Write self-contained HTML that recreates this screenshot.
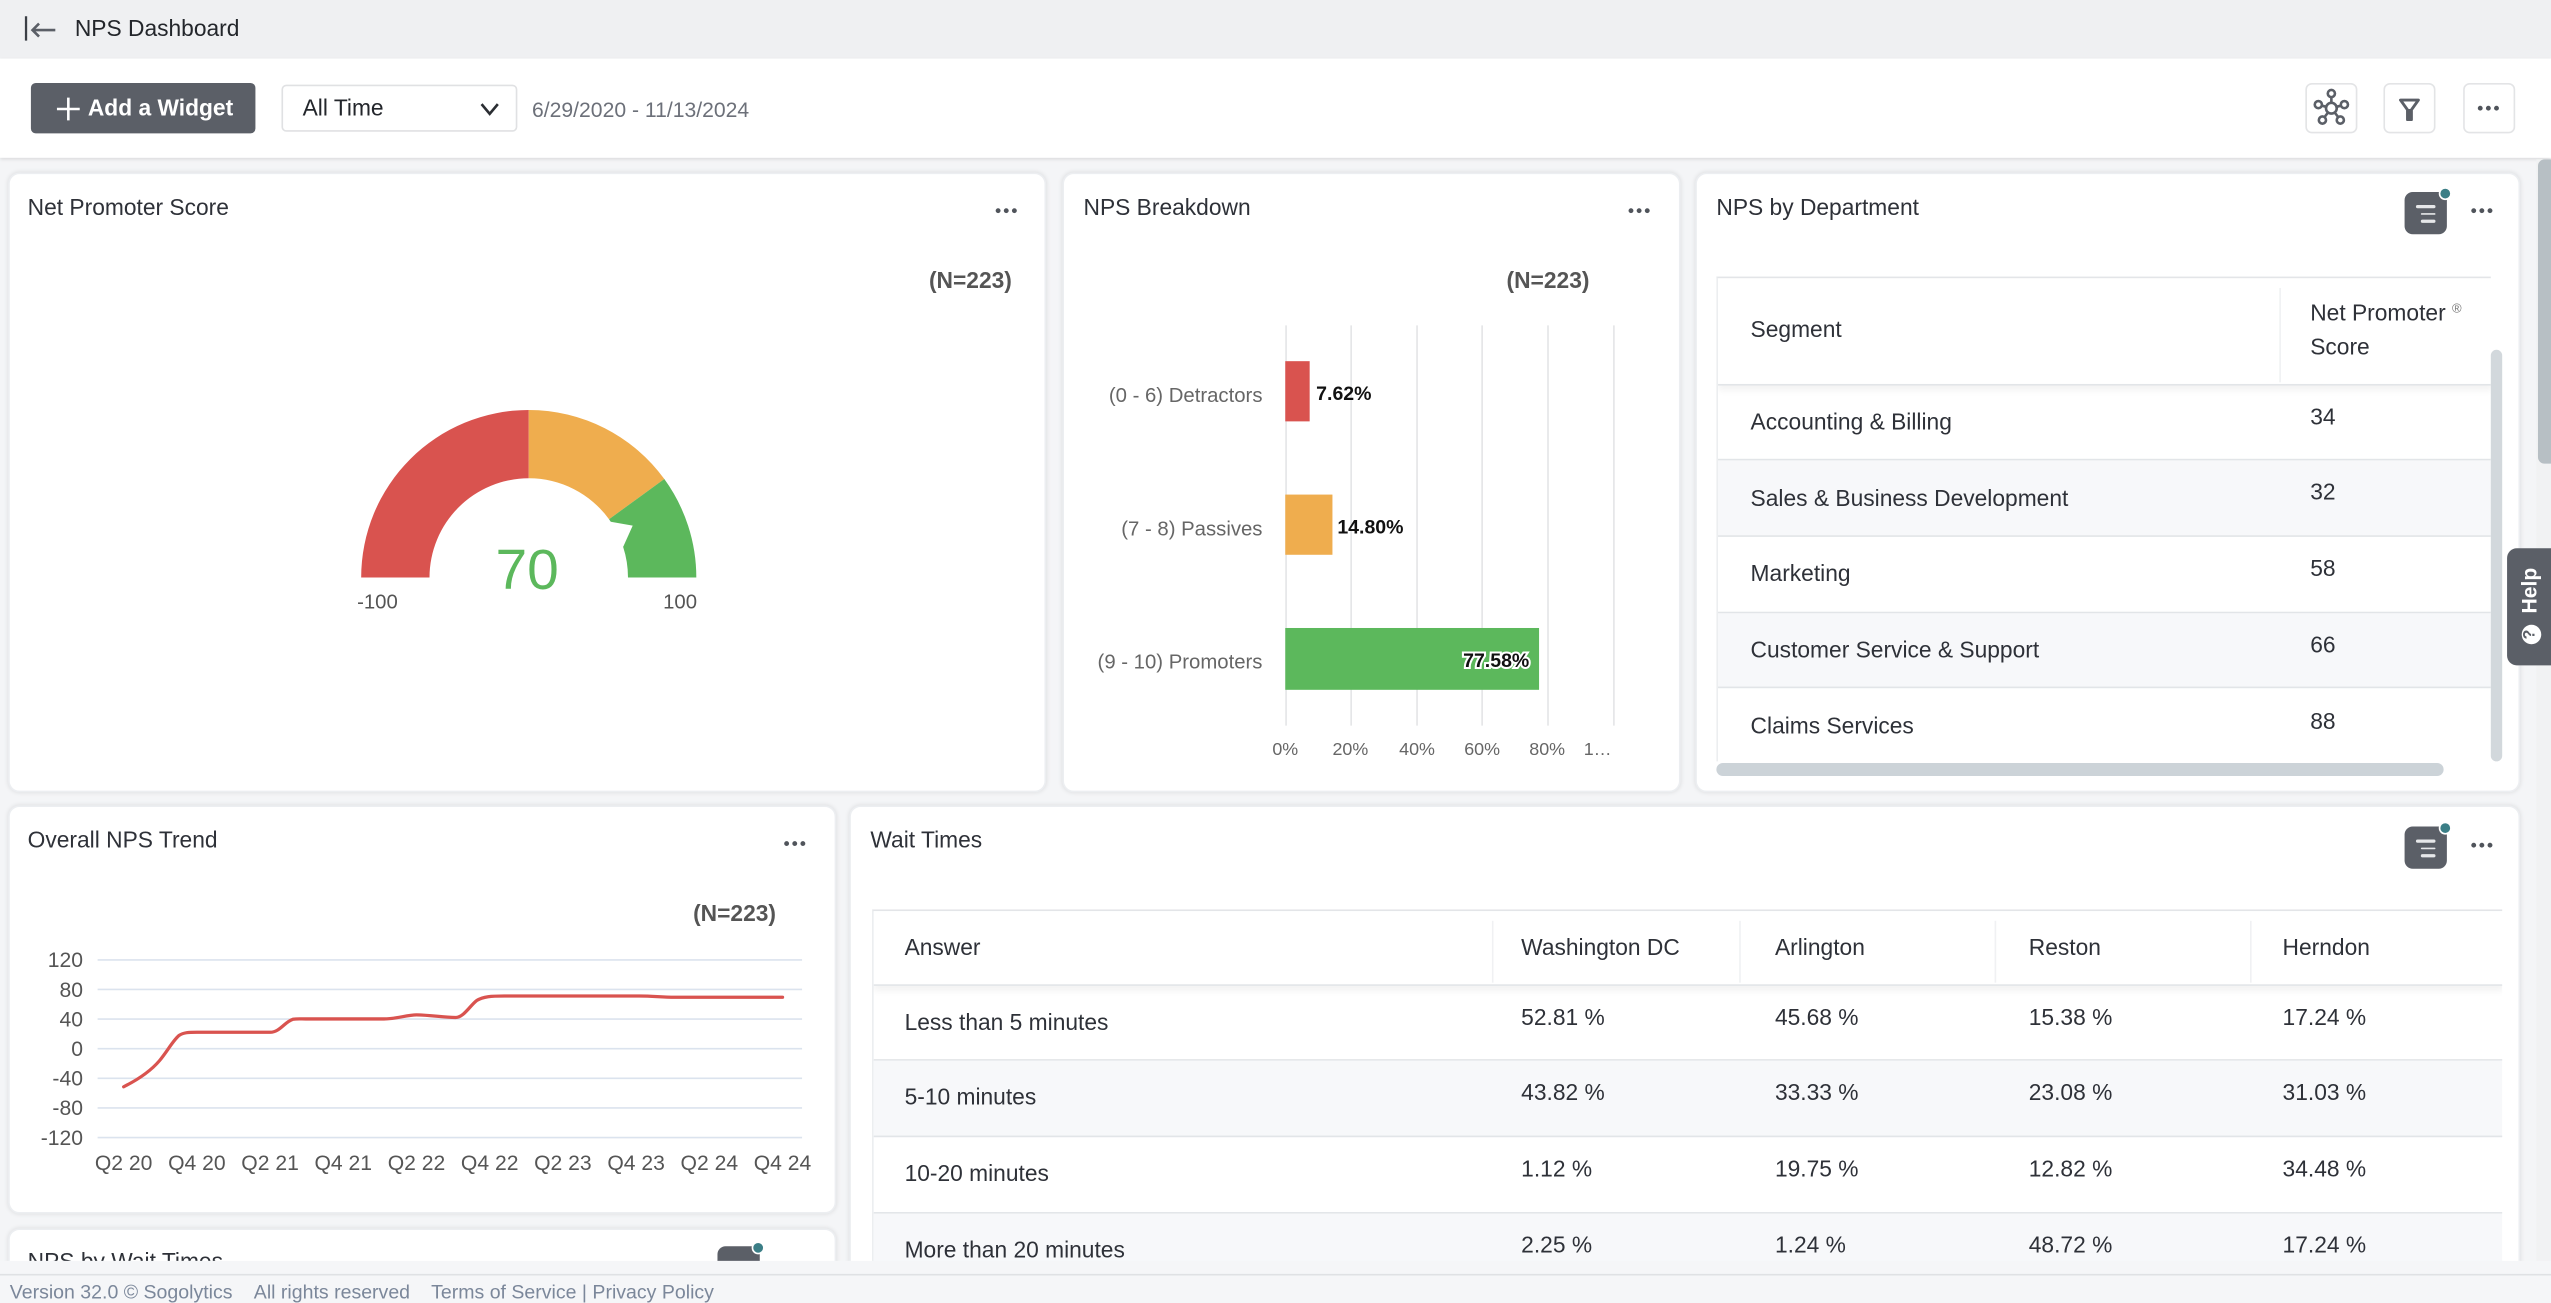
<!DOCTYPE html>
<html><head><meta charset="utf-8">
<style>
*{box-sizing:border-box;margin:0;padding:0}
html,body{width:2551px;height:1303px;overflow:hidden;background:#f4f5f7}
#outer{position:absolute;left:0;top:0;width:2551px;height:1303px;overflow:hidden;contain:paint}
#w{position:absolute;left:0;top:0;width:1568px;height:800.5px;transform:scale(1.626913);transform-origin:0 0;background:#f4f5f7;font-family:"Liberation Sans",Arial,sans-serif;color:#2e3138;overflow:hidden}
.a{position:absolute}
.card{position:absolute;background:#fff;border-radius:7px;box-shadow:0 0 3px rgba(0,0,0,.10);border:1px solid #eceef1}
.t{position:absolute;white-space:nowrap;line-height:1;font-size:14px}
.dots{position:absolute;width:14px;height:4px}
.dots i{position:absolute;top:0;width:3.4px;height:3.4px;border-radius:50%;background:#50545b}
.dots i:nth-child(1){left:0}.dots i:nth-child(2){left:5px}.dots i:nth-child(3){left:10px}
.fi{position:absolute;width:26px;height:26px;background:#5b5f67;border-radius:5px}
.fi b{position:absolute;height:1.6px;background:#e6e7e9;border-radius:1px}
.fi u{position:absolute;right:-3px;top:-3px;width:8px;height:8px;border-radius:50%;background:#3b7e86;border:1.2px solid #fff}
.row{position:absolute;border-bottom:1px solid #e2e5e8}
.g{background:#f7f8fa}
.n{color:#555;font-weight:bold}
</style></head><body>
<div id="outer">
<div id="w">

<!-- top bar -->
<div class="a" style="left:0;top:0;width:1568px;height:36px;background:#eff0f2"></div>
<svg class="a" style="left:12px;top:8px" width="26" height="20"><line x1="4" y1="2" x2="4" y2="17" stroke="#3b3f46" stroke-width="1.4"/><line x1="8" y1="10.5" x2="22" y2="10.5" stroke="#5b5f67" stroke-width="1.6"/><polyline points="12,6.5 8,10.5 12,14.5" fill="none" stroke="#5b5f67" stroke-width="1.6"/></svg>
<div class="t" style="left:46px;top:10px;font-size:14px;color:#23262b">NPS Dashboard</div>

<!-- toolbar -->
<div class="a" style="left:0;top:36px;width:1568px;height:61px;background:#fff;box-shadow:0 1px 2px rgba(0,0,0,.10)"></div>
<div class="a" style="left:19px;top:51px;width:138px;height:31px;background:#5b5f67;border-radius:3px"></div>
<svg class="a" style="left:34px;top:59px" width="16" height="16"><line x1="8" y1="1" x2="8" y2="15" stroke="#fff" stroke-width="1.6"/><line x1="1" y1="8" x2="15" y2="8" stroke="#fff" stroke-width="1.6"/></svg>
<div class="t" style="left:54px;top:59px;color:#fff;font-weight:bold;font-size:14px">Add a Widget</div>
<div class="a" style="left:173px;top:52px;width:145px;height:29px;border:1px solid #e0e1e3;border-radius:3px;background:#fff"></div>
<div class="t" style="left:186px;top:59px;color:#23262b">All Time</div>
<svg class="a" style="left:294px;top:61px" width="16" height="12"><polyline points="2,3 7,9 12,3" fill="none" stroke="#2b2e33" stroke-width="1.6"/></svg>
<div class="t" style="left:327px;top:61px;font-size:13px;color:#6c7079">6/29/2020 - 11/13/2024</div>

<div class="a" style="left:1417px;top:51px;width:32px;height:31px;border:1px solid #e3e4e6;border-radius:4px"></div>
<div class="a" style="left:1465px;top:51px;width:32px;height:31px;border:1px solid #e3e4e6;border-radius:4px"></div>
<div class="a" style="left:1514px;top:51px;width:32px;height:31px;border:1px solid #e3e4e6;border-radius:4px"></div>
<svg class="a" style="left:1417px;top:51px" width="32" height="31" fill="none" stroke="#5b5f67" stroke-width="1.6">
<line x1="16" y1="15.5" x2="16" y2="7.5"/><line x1="16" y1="15.5" x2="8.5" y2="13.5"/><line x1="16" y1="15.5" x2="23.5" y2="13.5"/><line x1="16" y1="15.5" x2="11" y2="22"/><line x1="16" y1="15.5" x2="21" y2="22"/>
<circle cx="16" cy="15.5" r="3.3" fill="#fff"/><circle cx="16" cy="6.5" r="2.2" fill="#fff"/><circle cx="8" cy="13.3" r="2.2" fill="#fff"/><circle cx="24" cy="13.3" r="2.2" fill="#fff"/><circle cx="10.5" cy="22.8" r="2.2" fill="#fff"/><circle cx="21.5" cy="22.8" r="2.2" fill="#fff"/></svg>
<svg class="a" style="left:1465px;top:51px" width="32" height="31"><path d="M10.5,10.5 H21.5 L17.2,16.5 V22.5 H14.8 V16.5 Z" fill="none" stroke="#5b5f67" stroke-width="1.8" stroke-linejoin="round"/><rect x="14.8" y="16" width="2.4" height="6.5" fill="#5b5f67"/></svg>
<div class="dots" style="left:1523px;top:65px"><i></i><i></i><i></i></div>

<!-- right scrollbar -->
<div class="a" style="left:1559px;top:98px;width:9px;height:703px;background:#f1f2f3"></div>
<div class="a" style="left:1560px;top:98px;width:8px;height:187px;background:#b7bfc4;border-radius:4px 0 0 4px"></div>

<!-- Card 1: Net Promoter Score -->
<div class="card" style="left:5px;top:106px;width:638px;height:381px"></div>
<div class="t" style="left:17px;top:120px">Net Promoter Score</div>
<div class="dots" style="left:612px;top:128px"><i></i><i></i><i></i></div>
<div class="t n" style="left:571px;top:165px">(N=223)</div>
<svg class="a" style="left:0;top:0" width="660" height="400">
<path d="M222,355 A103,103 0 0 1 325,252 L325,294 A61,61 0 0 0 264,355 Z" fill="#d9534f"/>
<path d="M325,252 A103,103 0 0 1 408.33,294.46 L374.35,319.14 A61,61 0 0 0 325,294 Z" fill="#efad4e"/>
<path d="M408.33,294.46 A103,103 0 0 1 428,355 L386,355 A61,61 0 0 0 374.35,319.14 Z" fill="#5cb85c"/>
<polygon points="374.9,320.6 388.9,323.1 383.1,336 360,342" fill="#fff"/>
<text x="324" y="362" text-anchor="middle" font-family="Liberation Sans, Arial, sans-serif" font-size="35" fill="#5cb85c">70</text>
<text x="232" y="374" text-anchor="middle" font-family="Liberation Sans, Arial, sans-serif" font-size="12.5" fill="#555">-100</text>
<text x="418" y="374" text-anchor="middle" font-family="Liberation Sans, Arial, sans-serif" font-size="12.5" fill="#555">100</text>
</svg>

<!-- Card 2: NPS Breakdown -->
<div class="card" style="left:653px;top:106px;width:380px;height:381px"></div>
<div class="t" style="left:666px;top:120px">NPS Breakdown</div>
<div class="dots" style="left:1001px;top:128px"><i></i><i></i><i></i></div>
<div class="t n" style="left:926px;top:165px">(N=223)</div>
<svg class="a" style="left:0;top:0" width="1040" height="480" font-family="Liberation Sans, Arial, sans-serif">
<g stroke="#e4e5e7" stroke-width="1">
<line x1="790.5" y1="200" x2="790.5" y2="446"/><line x1="830.5" y1="200" x2="830.5" y2="446"/><line x1="871" y1="200" x2="871" y2="446"/><line x1="911" y1="200" x2="911" y2="446"/><line x1="951.5" y1="200" x2="951.5" y2="446"/><line x1="992" y1="200" x2="992" y2="446"/>
</g>
<rect x="790" y="222" width="15" height="37" fill="#d9534f"/>
<rect x="790" y="304" width="29" height="37" fill="#efad4e"/>
<rect x="790" y="386" width="156" height="38" fill="#5cb85c"/>
<g font-size="12.5" fill="#666" text-anchor="end">
<text x="776" y="247">(0 - 6) Detractors</text>
<text x="776" y="329">(7 - 8) Passives</text>
<text x="776" y="411">(9 - 10) Promoters</text>
</g>
<g font-size="12" font-weight="bold" fill="#111">
<text x="809" y="246">7.62%</text>
<text x="822" y="328">14.80%</text>
<text x="940" y="410" text-anchor="end" stroke="#fff" stroke-width="2.5" paint-order="stroke">77.58%</text>
</g>
<g font-size="11" fill="#666" text-anchor="middle">
<text x="790" y="464">0%</text><text x="830" y="464">20%</text><text x="871" y="464">40%</text><text x="911" y="464">60%</text><text x="951" y="464">80%</text><text x="982" y="464">1…</text>
</g>
</svg>

<!-- Card 3: NPS by Department -->
<div class="card" style="left:1042px;top:106px;width:507px;height:381px"></div>
<div class="t" style="left:1055px;top:120px">NPS by Department</div>
<div class="fi" style="left:1478px;top:118px"><b style="left:7px;top:8px;width:12px"></b><b style="left:10px;top:12.5px;width:9px"></b><b style="left:10px;top:17px;width:9px"></b><u></u></div>
<div class="dots" style="left:1519px;top:128px"><i></i><i></i><i></i></div>
<div class="a" style="left:1055px;top:170px;width:476px;height:298px;border-top:1px solid #e3e5e8;border-left:1px solid #eceef0;overflow:hidden">
 <div class="row" style="left:0;top:0;width:476px;height:66px;box-shadow:0 3px 4px rgba(0,0,0,.05)"></div>
 <div class="a" style="left:345px;top:6px;width:1px;height:58px;background:#f0f1f3"></div>
 <div class="row" style="left:0;top:66px;width:476px;height:46px"></div>
 <div class="row g" style="left:0;top:112px;width:476px;height:47px"></div>
 <div class="row" style="left:0;top:159px;width:476px;height:47px"></div>
 <div class="row g" style="left:0;top:206px;width:476px;height:46px"></div>
</div>
<div class="t" style="left:1076px;top:195px">Segment</div>
<div class="t" style="left:1420px;top:185px">Net Promoter <sup style="font-size:8px;color:#777;vertical-align:5px">®</sup></div>
<div class="t" style="left:1420px;top:206px">Score</div>
<div class="t" style="left:1076px;top:252px">Accounting &amp; Billing</div>
<div class="t" style="left:1076px;top:299px">Sales &amp; Business Development</div>
<div class="t" style="left:1076px;top:345px">Marketing</div>
<div class="t" style="left:1076px;top:392px">Customer Service &amp; Support</div>
<div class="t" style="left:1076px;top:439px">Claims Services</div>
<div class="t" style="left:1420px;top:249px">34</div>
<div class="t" style="left:1420px;top:295px">32</div>
<div class="t" style="left:1420px;top:342px">58</div>
<div class="t" style="left:1420px;top:389px">66</div>
<div class="t" style="left:1420px;top:436px">88</div>
<div class="a" style="left:1531px;top:215px;width:7px;height:253px;background:#d2d8dc;border-radius:4px"></div>
<div class="a" style="left:1055px;top:469px;width:447px;height:8px;background:#ccd3d8;border-radius:4px"></div>

<!-- Help tab -->
<div class="a" style="left:1541px;top:337px;width:28px;height:72px;background:#5b5f67;border-radius:6px 0 0 6px"></div>
<div class="t" style="left:1537px;top:356px;transform:rotate(-90deg);transform-origin:center;color:#fff;font-weight:bold;font-size:13px;width:36px;text-align:center;line-height:14px">Help</div>
<div class="a" style="left:1550px;top:384px;width:12px;height:12px;border-radius:50%;background:#fff"></div>
<div class="t" style="left:1550px;top:384px;width:12px;text-align:center;font-size:10px;font-weight:bold;color:#5b5f67;transform:rotate(-90deg);line-height:12px">?</div>

<!-- Card 4: Overall NPS Trend -->
<div class="card" style="left:5px;top:495px;width:509px;height:251px"></div>
<div class="t" style="left:17px;top:509px">Overall NPS Trend</div>
<div class="dots" style="left:482px;top:517px"><i></i><i></i><i></i></div>
<div class="t n" style="left:426px;top:554px">(N=223)</div>
<svg class="a" style="left:0;top:0" width="520" height="740" font-family="Liberation Sans, Arial, sans-serif">
<g stroke="#dbe3ee" stroke-width="1">
<line x1="60" y1="590" x2="493" y2="590"/><line x1="60" y1="608.2" x2="493" y2="608.2"/><line x1="60" y1="626.4" x2="493" y2="626.4"/><line x1="60" y1="644.6" x2="493" y2="644.6"/><line x1="60" y1="662.8" x2="493" y2="662.8"/><line x1="60" y1="681" x2="493" y2="681"/><line x1="60" y1="699.2" x2="493" y2="699.2"/>
</g>
<g font-size="13" fill="#555" text-anchor="end">
<text x="51" y="594.5">120</text><text x="51" y="612.7">80</text><text x="51" y="630.9">40</text><text x="51" y="649.1">0</text><text x="51" y="667.3">-40</text><text x="51" y="685.5">-80</text><text x="51" y="703.7">-120</text>
</g>
<g font-size="13" fill="#555" text-anchor="middle">
<text x="76" y="719">Q2 20</text><text x="121" y="719">Q4 20</text><text x="166" y="719">Q2 21</text><text x="211" y="719">Q4 21</text><text x="256" y="719">Q2 22</text><text x="301" y="719">Q4 22</text><text x="346" y="719">Q2 23</text><text x="391" y="719">Q4 23</text><text x="436" y="719">Q2 24</text><text x="481" y="719">Q4 24</text>
</g>
<path d="M76,668 C84,664 92,659 98,652 C103,646 106,640 110,636.5 C113,634.5 116,634.5 121,634.5 L166,634.5 C172,634.5 175,628 180,626.5 C183,626 185,626.3 188,626.3 L236,626.3 C244,626.3 250,623.8 256,623.8 C266,624 272,625.4 280,625.4 C285,625.4 289,618 293,615 C297,612.5 302,612.2 310,612.2 L393,612.2 C402,612.2 406,613 415,613 L481,613" fill="none" stroke="#d9534f" stroke-width="2" stroke-linejoin="round" stroke-linecap="round"/>
</svg>

<!-- Card 5: Wait Times -->
<div class="card" style="left:522px;top:495px;width:1027px;height:300px"></div>
<div class="t" style="left:535px;top:509px">Wait Times</div>
<div class="fi" style="left:1478px;top:508px"><b style="left:7px;top:8px;width:12px"></b><b style="left:10px;top:12.5px;width:9px"></b><b style="left:10px;top:17px;width:9px"></b><u></u></div>
<div class="dots" style="left:1519px;top:518px"><i></i><i></i><i></i></div>
<div class="a" style="left:536px;top:559px;width:1002px;height:230px;border-top:1px solid #e3e5e8;border-left:1px solid #eceef0;overflow:hidden">
 <div class="row" style="left:0;top:0;width:1002px;height:46px;box-shadow:0 3px 4px rgba(0,0,0,.05)"></div>
 <div class="a" style="left:380px;top:6px;width:1px;height:38px;background:#f0f1f3"></div>
 <div class="a" style="left:532px;top:6px;width:1px;height:38px;background:#f0f1f3"></div>
 <div class="a" style="left:689px;top:6px;width:1px;height:38px;background:#f0f1f3"></div>
 <div class="a" style="left:846px;top:6px;width:1px;height:38px;background:#f0f1f3"></div>
 <div class="row" style="left:0;top:46px;width:1002px;height:46px"></div>
 <div class="row g" style="left:0;top:92px;width:1002px;height:47px"></div>
 <div class="row" style="left:0;top:139px;width:1002px;height:47px"></div>
 <div class="row g" style="left:0;top:186px;width:1002px;height:47px"></div>
</div>
<div class="t" style="left:556px;top:575px">Answer</div>
<div class="t" style="left:935px;top:575px">Washington DC</div>
<div class="t" style="left:1091px;top:575px">Arlington</div>
<div class="t" style="left:1247px;top:575px">Reston</div>
<div class="t" style="left:1403px;top:575px">Herndon</div>
<div class="t" style="left:556px;top:621px">Less than 5 minutes</div>
<div class="t" style="left:556px;top:667px">5-10 minutes</div>
<div class="t" style="left:556px;top:714px">10-20 minutes</div>
<div class="t" style="left:556px;top:761px">More than 20 minutes</div>
<div class="t" style="left:935px;top:618px">52.81 %</div><div class="t" style="left:1091px;top:618px">45.68 %</div><div class="t" style="left:1247px;top:618px">15.38 %</div><div class="t" style="left:1403px;top:618px">17.24 %</div>
<div class="t" style="left:935px;top:664px">43.82 %</div><div class="t" style="left:1091px;top:664px">33.33 %</div><div class="t" style="left:1247px;top:664px">23.08 %</div><div class="t" style="left:1403px;top:664px">31.03 %</div>
<div class="t" style="left:935px;top:711px">1.12 %</div><div class="t" style="left:1091px;top:711px">19.75 %</div><div class="t" style="left:1247px;top:711px">12.82 %</div><div class="t" style="left:1403px;top:711px">34.48 %</div>
<div class="t" style="left:935px;top:758px">2.25 %</div><div class="t" style="left:1091px;top:758px">1.24 %</div><div class="t" style="left:1247px;top:758px">48.72 %</div><div class="t" style="left:1403px;top:758px">17.24 %</div>

<!-- Card 6: NPS by Wait Times (clipped) -->
<div class="card" style="left:5px;top:755px;width:509px;height:40px"></div>
<div class="t" style="left:17px;top:768px">NPS by Wait Times</div>
<div class="fi" style="left:441px;top:766px"><u></u></div>

<!-- footer -->
<div class="a" style="left:0;top:774.5px;width:1568px;height:26px;background:#f5f6f8"></div>
<div class="a" style="left:0;top:782.5px;width:1568px;height:1px;background:#dfe1e4"></div>
<div class="t" style="left:6px;top:788px;font-size:12px;color:#7b879a">Version 32.0 © Sogolytics</div>
<div class="t" style="left:156px;top:788px;font-size:12px;color:#7b879a">All rights reserved</div>
<div class="t" style="left:265px;top:788px;font-size:12px;color:#7b879a">Terms of Service | Privacy Policy</div>

</div>
</div>
</body></html>
